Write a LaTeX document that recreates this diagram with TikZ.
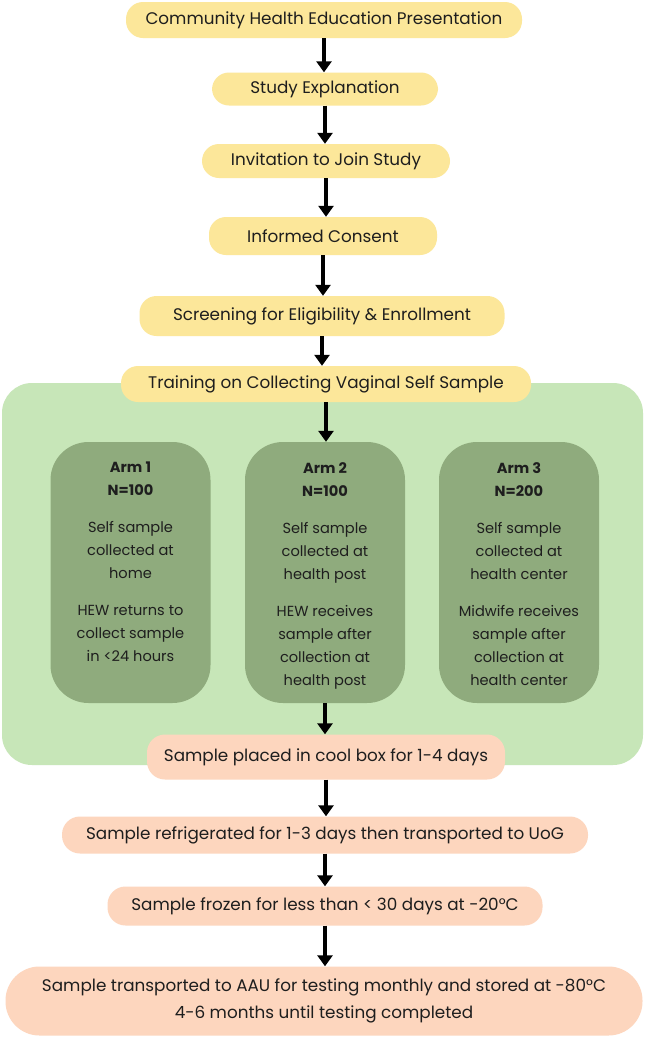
\documentclass[tikz,border=0pt]{standalone}
\usepackage{fontspec}
\setmainfont{Poppins}
\usetikzlibrary{arrows.meta}
\definecolor{yel}{HTML}{FCE79A}
\definecolor{sal}{HTML}{FDD6BE}
\definecolor{pan}{HTML}{C7E6B8}
\definecolor{arm}{HTML}{8FAB7D}
\definecolor{txt}{HTML}{1E1E1E}
\tikzset{
  pill/.style={rounded corners=#1, inner sep=0pt, align=center, text=txt, font=\fontsize{16.8}{20}\selectfont},
  ybox/.style={pill=17pt, fill=yel},
  sbox/.style={pill=18pt, fill=sal},
  armbox/.style={rounded corners=38pt, fill=arm, minimum width=160pt, minimum height=261pt, inner sep=0pt},
  armtext/.style={anchor=north, inner sep=0pt, align=center, text=txt, font=\fontsize{14.6}{23}\selectfont},
  flow/.style={line width=3.4pt, -{Triangle[length=11pt,width=15pt]}, black}
}
\begin{document}
\begin{tikzpicture}[x=1pt,y=-1pt]
\useasboundingbox (0,0) rectangle (646,1037);
\fill[white] (0,0) rectangle (646,1037);
% green panel
\fill[pan, rounded corners=30pt] (2,383) rectangle (643,765);
% top boxes
\node[ybox, minimum width=396pt, minimum height=36pt] (b1) at (324,20) {Community Health Education Presentation};
\node[ybox, minimum width=226pt, minimum height=33pt] (b2) at (325,89) {Study Explanation};
\node[ybox, minimum width=248pt, minimum height=34pt] (b3) at (326,161) {Invitation to Join Study};
\node[ybox, minimum width=228pt, minimum height=38pt] (b4) at (323,236) {Informed Consent};
\node[ybox, minimum width=365pt, minimum height=40pt] (b5) at (322,316) {Screening for Eligibility \& Enrollment};
\node[ybox, minimum width=410pt, minimum height=36pt] (b6) at (326,384) {Training on Collecting Vaginal Self Sample};
% arms
\node[armbox] (a1) at (130.5,572.5) {};
\node[armbox] (a2) at (325,572.5) {};
\node[armbox] (a3) at (519,572.5) {};
\node[armtext] (t1) at (130.5,462) {\textbf{Arm 1}\\\textbf{N=100}\\[14pt]Self sample\\collected at\\home\\[14pt]HEW returns to\\collect sample\\in <24 hours};
\node[armtext] (t2) at (325,462) {\textbf{Arm 2}\\\textbf{N=100}\\[14pt]Self sample\\collected at\\health post\\[14pt]HEW receives\\sample after\\collection at\\health post};
\node[armtext] (t3) at (519,462) {\textbf{Arm 3}\\\textbf{N=200}\\[14pt]Self sample\\collected at\\health center\\[14pt]Midwife receives\\sample after\\collection at\\health center};
% bottom boxes
\node[sbox, minimum width=358pt, minimum height=45pt] (c1) at (326,757) {Sample placed in cool box for 1-4 days};
\node[sbox, minimum width=526pt, minimum height=37pt] (c2) at (325,835) {Sample refrigerated for 1-3 days then transported to UoG};
\node[sbox, minimum width=435pt, minimum height=39pt] (c3) at (325,906) {Sample frozen for less than < 30 days at -20°C};
\node[pill=34pt, fill=sal, minimum width=637pt, minimum height=69pt, font=\fontsize{16.8}{27}\selectfont] (c4) at (324,1001) {Sample transported to AAU for testing monthly and stored at -80°C\\4-6 months until testing completed};
% arrows
\draw[flow] (b1.south) -- (b1.south |- b2.north);
\draw[flow] (b2.south) -- (b2.south |- b3.north);
\draw[flow] (b3.south) -- (b3.south |- b4.north);
\draw[flow] (b4.south) -- (b4.south |- b5.north);
\draw[flow] (b5.south) -- (b5.south |- b6.north);
\draw[flow] (b6.south) -- (b6.south |- a2.north);
\draw[flow] (a2.south) -- (a2.south |- c1.north);
\draw[flow] (c1.south) -- (c1.south |- c2.north);
\draw[flow] (c2.south) -- (c2.south |- c3.north);
\draw[flow] (c3.south) -- (c3.south |- c4.north);
\end{tikzpicture}
\end{document}
